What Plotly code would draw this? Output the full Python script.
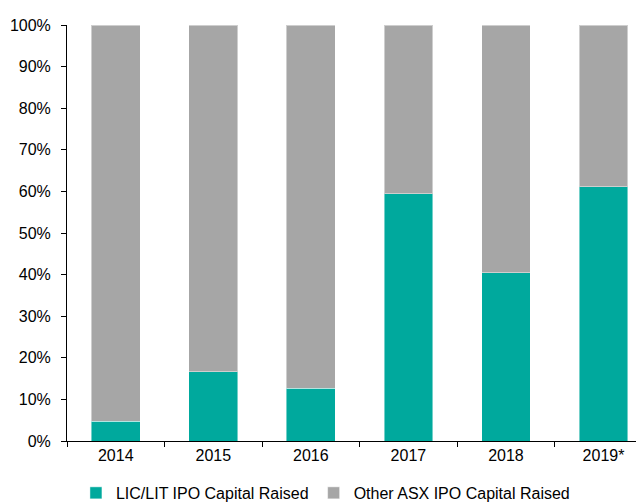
'''
Stacked 100% bar chart of LIC/LIT IPO capital raised versus the rest of
ASX IPO capital raised, by year.
'''
import plotly.graph_objects as go
from plotly.graph_objects import Figure

years = ['2014', '2015', '2016', '2017', '2018', '2019*']
lic_lit_share = [0.048, 0.166, 0.127, 0.594, 0.404, 0.611]
other_share = [round(1 - v, 3) for v in lic_lit_share]

TEAL = '#00A99D'
GREY = '#A6A6A6'
FONT = 'Liberation Sans, Arial, sans-serif'


def ipo_capital_share(years, lic_lit_share, other_share) -> Figure:
    '''
    Build the stacked bar chart: LIC/LIT share at the bottom,
    other ASX IPO capital on top, each year summing to 100%.
    '''
    fig = go.Figure()
    fig.add_trace(go.Bar(x=years, y=lic_lit_share,
                         name='LIC/LIT IPO Capital Raised',
                         marker=dict(color=TEAL,
                                     line=dict(color='rgba(255,255,255,0.45)', width=1))))
    fig.add_trace(go.Bar(x=years, y=other_share,
                         name='Other ASX IPO Capital Raised',
                         marker=dict(color=GREY,
                                     line=dict(color='rgba(255,255,255,0.45)', width=1))))

    # page body adds an 8px offset, so the figure is 8px smaller than the window
    # and margins are fixed - labels/legend must not push the plot area around
    fig.update_layout(barmode='stack',
                      bargap=0.5,
                      width=636, height=495,
                      margin=dict(l=59, r=0, t=17, b=62, autoexpand=False),
                      paper_bgcolor='white',
                      plot_bgcolor='white',
                      font=dict(family=FONT, size=16, color='#000000'),
                      legend=dict(orientation='h',
                                  x=0.0155, xanchor='left',
                                  y=-0.084, yanchor='top',
                                  font=dict(size=16),
                                  traceorder='normal'))

    # the category axis runs past the right edge, as in the source picture
    fig.update_xaxes(type='category',
                     range=[-0.5, 5.415],
                     automargin=False,
                     showline=True, linecolor='black', linewidth=1,
                     ticks='outside', tickson='boundaries',
                     ticklen=5, tickcolor='black',
                     showgrid=False)

    fig.update_yaxes(range=[0, 1],
                     automargin=False,
                     tickvals=[i / 10 for i in range(11)],
                     tickformat='.0%',
                     showline=True, linecolor='black', linewidth=1,
                     ticks='outside', ticklen=5, tickcolor='black',
                     ticklabelstandoff=7,
                     showgrid=False, zeroline=False)

    return fig


fig = ipo_capital_share(years, lic_lit_share, other_share)
fig.write_html('out.html')
